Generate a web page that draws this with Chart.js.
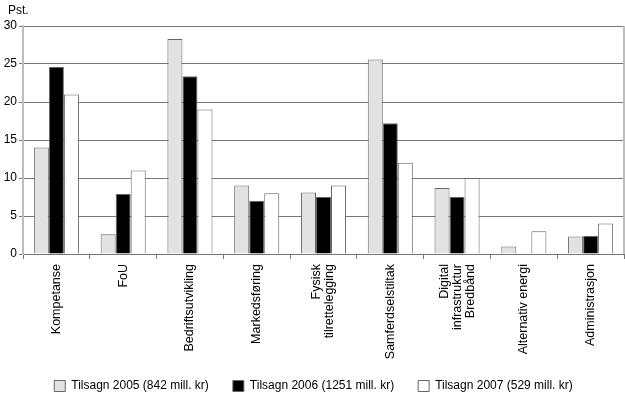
<!DOCTYPE html>
<html>
<head>
<meta charset="utf-8">
<script src="https://cdn.jsdelivr.net/npm/chart.js@4/dist/chart.umd.min.js"></script>
<style>
  html, body { margin: 0; padding: 0; background: #fff; }
  #wrap { width: 625px; height: 395px; }
</style>
</head>
<body>
<div id="wrap"><canvas id="myChart" width="625" height="395"></canvas></div>
<script>
// kategorier (flere linjer der etiketten er brutt)
const categories = [
    ["Kompetanse"],
    ["FoU"],
    ["Bedriftsutvikling"],
    ["Markedsføring"],
    ["Fysisk", "tilrettelegging"],
    ["Samferdselstiltak"],
    ["Digital", "infrastruktur", "Bredbånd"],
    ["Alternativ energi"],
    ["Administrasjon"]
];

const seriesNames = [
    "Tilsagn 2005 (842 mill. kr)",
    "Tilsagn 2006 (1251 mill. kr)",
    "Tilsagn 2007 (529 mill. kr)"
];

const tilsagn2005 = [14.0, 2.6, 28.3, 9.0, 8.1, 25.6, 8.7, 1.0, 2.3];
const tilsagn2006 = [24.6, 7.9, 23.4, 7.0, 7.5, 17.2, 7.5, 0, 2.4];
const tilsagn2007 = [21.0, 11.0, 19.0, 8.0, 9.0, 12.0, 10.0, 3.0, 4.0];

const yTicks = [0, 5, 10, 15, 20, 25, 30];
const yUnit = "Pst.";

const fontFamily = '"Liberation Sans", Arial, sans-serif';

// tegner kategorietiketter (sentrert blokk) og enhet øverst
const labelPlugin = {
    id: "labelPlugin",
    afterDraw(chart) {
        const ctx = chart.ctx;
        const xs = chart.scales.x;
        const area = chart.chartArea;
        ctx.save();

        // høyre ramme
        ctx.strokeStyle = "#bdbdbd";
        ctx.lineWidth = 2;
        ctx.beginPath();
        ctx.moveTo(area.right, area.top);
        ctx.lineTo(area.right, area.bottom);
        ctx.stroke();

        ctx.font = "12px " + fontFamily;
        ctx.fillStyle = "#000";
        ctx.textBaseline = "middle";

        ctx.textAlign = "left";
        ctx.fillText(yUnit, 8, 11);

        const lineH = 13;
        ctx.font = "12.5px " + fontFamily;
        ctx.textAlign = "right";
        categories.forEach((lines, i) => {
            const cx = xs.getPixelForValue(i);
            lines.forEach((ln, j) => {
                const x = cx + (j - (lines.length - 1) / 2) * lineH;
                ctx.save();
                ctx.translate(x, xs.top + 10);
                ctx.rotate(-Math.PI / 2);
                ctx.fillText(ln, 0, 0);
                ctx.restore();
            });
        });
        ctx.restore();
    }
};

const ctx = document.getElementById("myChart");

new Chart(ctx, {
    type: "bar",
    data: {
        labels: categories,
        datasets: [
            {
                label: seriesNames[0],
                data: tilsagn2005,
                backgroundColor: "#e2e2e2",
                borderColor: "#666",
                borderWidth: 1
            },
            {
                label: seriesNames[1],
                data: tilsagn2006,
                backgroundColor: "#000",
                borderColor: "#666",
                borderWidth: 1
            },
            {
                label: seriesNames[2],
                data: tilsagn2007,
                backgroundColor: "#fff",
                borderColor: "#666",
                borderWidth: 1
            }
        ]
    },
    options: {
        responsive: false,
        animation: false,
        layout: {
            padding: { left: 3, top: 26, right: 1, bottom: -7 }
        },
        datasets: {
            bar: {
                categoryPercentage: 0.675,
                barPercentage: 1.0
            }
        },
        plugins: {
            tooltip: { enabled: false },
            legend: {
                position: "bottom",
                labels: {
                    font: { family: fontFamily, size: 12 },
                    color: "#000",
                    boxWidth: 11,
                    boxHeight: 11,
                    padding: 24
                }
            }
        },
        scales: {
            x: {
                grid: {
                    offset: true,
                    drawOnChartArea: false,
                    drawTicks: true,
                    tickLength: 5,
                    color: "#777"
                },
                border: { color: "#777", width: 1 },
                ticks: { display: false },
                afterFit(scale) {
                    scale.height = 102;
                }
            },
            y: {
                min: 0,
                max: 30,
                afterBuildTicks(scale) {
                    scale.ticks = yTicks.map(v => ({ value: v }));
                },
                grid: {
                    color: "#777",
                    lineWidth: 1,
                    drawTicks: true,
                    tickLength: 4
                },
                border: { color: "#bdbdbd", width: 2 },
                ticks: {
                    font: { family: fontFamily, size: 12 },
                    color: "#000",
                    padding: 2
                },
                afterFit(scale) {
                    scale.width = 20;
                }
            }
        }
    },
    plugins: [labelPlugin]
});
</script>
</body>
</html>
